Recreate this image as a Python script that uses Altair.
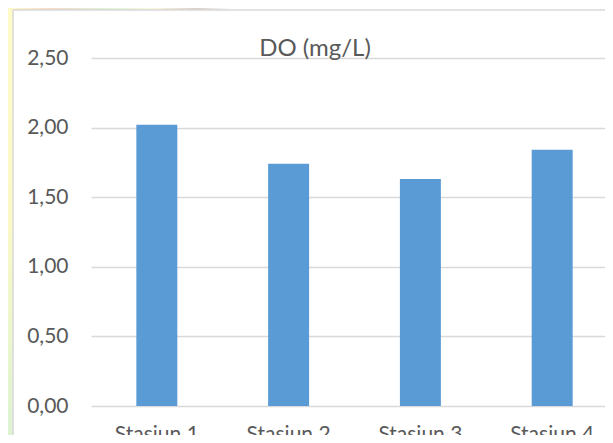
import altair as alt
import pandas as pd

stations = ["Stasiun 1", "Stasiun 2", "Stasiun 3", "Stasiun 4"]
do_values = [2.02, 1.74, 1.63, 1.84]
y_ticks = [0, 0.5, 1.0, 1.5, 2.0, 2.5]
chart_title = "DO (mg/L)"

df = pd.DataFrame({"stasiun": stations, "do": do_values})

FONT = "Lato"
GREY = "#595959"
W, H = 514, 348

bars = alt.Chart(df).mark_bar(color="#5B9BD5").encode(
    x=alt.X("stasiun:N", sort=stations,
            scale=alt.Scale(paddingInner=0.689, paddingOuter=0.344, range=[0, 527]),
            axis=alt.Axis(title=None, labelAngle=0, domain=False, ticks=False,
                          labelFontSize=21, labelFont=FONT, labelColor=GREY,
                          labelPadding=17, grid=False)),
    y=alt.Y("do:Q", scale=alt.Scale(domain=[0, 2.5], nice=False),
            axis=alt.Axis(title=None, values=y_ticks, domain=False, ticks=False,
                          labelFontSize=21, labelFont=FONT, labelColor=GREY,
                          labelPadding=23, grid=True, gridColor="#D9D9D9",
                          gridWidth=1.3,
                          labelExpr="replace(format(datum.value, '.2f'), '.', ',')")),
)

one = alt.Data(values=[{"t": chart_title}])

# slide background strips visible outside the chart box
left_strip = alt.Chart(one).mark_rect(
    color=alt.Gradient(gradient="linear", x1=0, y1=0, x2=0, y2=1,
                       stops=[alt.GradientStop(color="#FFFBC8", offset=0),
                              alt.GradientStop(color="#FBF9C6", offset=0.5),
                              alt.GradientStop(color="#DDF3D2", offset=1)])
).encode(x=alt.value(-83), x2=alt.value(-78), y=alt.value(-50), y2=alt.value(377))

top_strip = alt.Chart(one).mark_rect(
    color=alt.Gradient(gradient="linear", x1=0, y1=0, x2=1, y2=0,
                       stops=[alt.GradientStop(color="#FFFBC8", offset=0),
                              alt.GradientStop(color="#F6D8C8", offset=0.2),
                              alt.GradientStop(color="#DDF3D6", offset=0.45),
                              alt.GradientStop(color="#FBF8DE", offset=0.65),
                              alt.GradientStop(color="#D8CFC8", offset=0.85),
                              alt.GradientStop(color="#FFFFFF", offset=1)])
).encode(x=alt.value(-83), x2=alt.value(140), y=alt.value(-50), y2=alt.value(-48))

border_left = alt.Chart(one).mark_rule(color="#D9D9D9", strokeWidth=1.5).encode(
    x=alt.value(-78), y=alt.value(-48), y2=alt.value(377))
border_top = alt.Chart(one).mark_rule(color="#D9D9D9", strokeWidth=1.5).encode(
    x=alt.value(-78), x2=alt.value(W), y=alt.value(-48))

title = alt.Chart(one).mark_text(
    font=FONT, fontSize=24, color=GREY, align="center", baseline="alphabetic"
).encode(text="t:N", x=alt.value(224), y=alt.value(-2))

chart = alt.layer(left_strip, top_strip, border_left, border_top, bars, title).properties(
    width=W, height=H,
    autosize=alt.AutoSizeParams(type="none"),
    padding={"left": 83, "top": 50, "right": 0, "bottom": 29},
    background="white",
).configure_view(stroke=None)

chart.save("out.html", embed_options={"renderer": "svg", "actions": False})
